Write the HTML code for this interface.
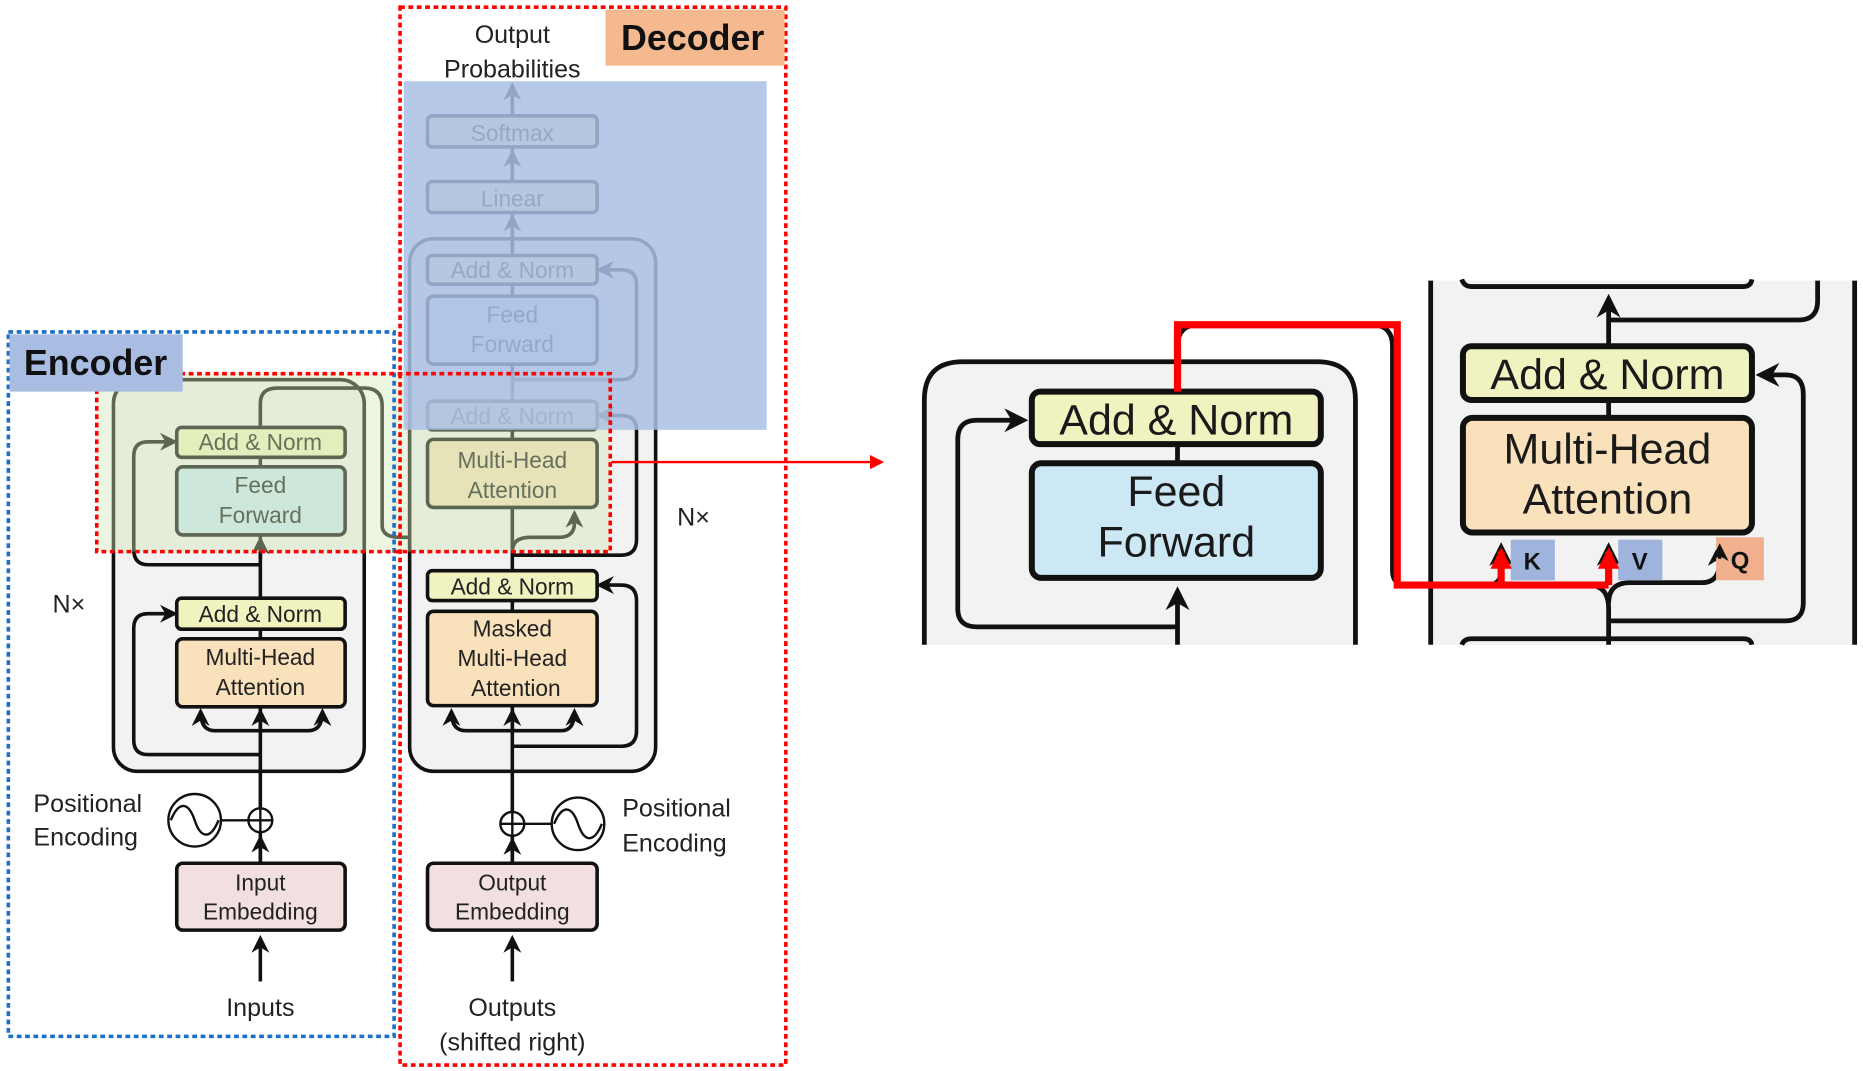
<!DOCTYPE html>
<html><head><meta charset="utf-8"><style>
html,body{margin:0;padding:0;background:#fff;width:1863px;height:1071px;overflow:hidden}
svg{display:block}
text{font-family:"Liberation Sans",sans-serif}
</style></head><body>
<svg width="1863" height="1071" viewBox="0 0 1560 897" preserveAspectRatio="none" xmlns="http://www.w3.org/2000/svg">
<defs>
<marker id="ah" viewBox="0 0 10 10" refX="8" refY="5" markerWidth="5" markerHeight="5" orient="auto-start-reverse"><path d="M0,0 L10,5 L0,10 L3,5z" fill="#111"/></marker>
<marker id="ahr" viewBox="0 0 10 10" refX="8" refY="5" markerWidth="3" markerHeight="3" orient="auto"><path d="M0,0 L10,5 L0,10z" fill="#f00"/></marker>
<marker id="ahr2" viewBox="0 0 10 10" refX="8" refY="5" markerWidth="6" markerHeight="6" orient="auto"><path d="M0,0 L10,5 L0,10z" fill="#f00"/></marker>
</defs>
<g fill="none" stroke="#111" stroke-width="3">
<!-- ENCODER -->
<rect x="95" y="318" width="210" height="328" rx="20" fill="#f2f2f2"/>
<line x1="218" y1="778" x2="218" y2="358"/>
<path d="M218,358 V338 Q218,325 232,325 H305 Q320,325 320,340 V440 Q320,450 335,450 H368 Q378,450 378,440 V430" marker-end="url(#ah)"/>
<path d="M429,450 V430" marker-end="url(#ah)"/>
<path d="M218,473 H124 Q112,473 112,460 V382 Q112,370 124,370 H146" marker-end="url(#ah)"/>
<path d="M218,632 H124 Q112,632 112,620 V526 Q112,514 124,514 H146" marker-end="url(#ah)"/>
<path d="M168,596 Q168,612 180,612 H258 Q270,612 270,596" marker-start="url(#ah)" marker-end="url(#ah)"/>
<path d="M218,612 V596" marker-end="url(#ah)"/>
<path d="M218,468 V452" marker-end="url(#ah)"/>
<rect x="148" y="358" width="141" height="25" rx="4" fill="#f0f3c0"/>
<rect x="148" y="391" width="141" height="57" rx="5" fill="#cde8f3"/>
<rect x="148" y="501" width="141" height="26" rx="4" fill="#f0f3c0"/>
<rect x="148" y="535" width="141" height="57" rx="5" fill="#f8e1bb"/>
<rect x="148" y="723" width="141" height="56" rx="5" fill="#f2dfe0"/>
<path d="M218,822 V786" marker-end="url(#ah)"/>
<path d="M218,720 V702" marker-end="url(#ah)"/>
<circle cx="163" cy="687" r="22" stroke-width="2" fill="#fff"/>
<path d="M143,687 C150,670 158,672 163,687 S176,704 183,687" stroke-width="2"/>
<line x1="185" y1="687" x2="208" y2="687" stroke-width="2"/>
<circle cx="218" cy="687" r="10" stroke-width="2" fill="#fff"/>
<path d="M208,687 H228 M218,677 V697" stroke-width="2"/>
<!-- DECODER -->
<rect x="343" y="200" width="206" height="446" rx="20" fill="#f2f2f2"/>
<line x1="429" y1="778" x2="429" y2="70"/>
<path d="M429,462 Q429,450 444,450 H468 Q481,450 481,438 V430" marker-end="url(#ah)"/>
<path d="M429,625 H520 Q533,625 533,612 V503 Q533,490 520,490 H502" marker-end="url(#ah)"/>
<path d="M429,465 H520 Q533,465 533,452 V360 Q533,348 520,348 H502" marker-end="url(#ah)"/>
<path d="M429,318 H520 Q533,318 533,305 V238 Q533,226 520,226 H502" marker-end="url(#ah)"/>
<path d="M378,596 Q378,612 390,612 H470 Q481,612 481,596" marker-start="url(#ah)" marker-end="url(#ah)"/>
<path d="M429,612 V596" marker-end="url(#ah)"/>
<path d="M429,148 V128" marker-end="url(#ah)"/>
<path d="M429,90 V72" marker-end="url(#ah)"/>
<path d="M429,205 V182" marker-end="url(#ah)"/>
<rect x="358" y="97" width="142" height="26" rx="4" fill="#f0f3c0"/>
<rect x="358" y="152" width="142" height="26" rx="4" fill="#f0f3c0"/>
<rect x="358" y="214" width="142" height="24" rx="4" fill="#f0f3c0"/>
<rect x="358" y="248" width="142" height="57" rx="5" fill="#cde8f3"/>
<rect x="358" y="336" width="142" height="24" rx="4" fill="#f0f3c0"/>
<rect x="358" y="368" width="142" height="57" rx="5" fill="#f8e1bb"/>
<rect x="358" y="478" width="142" height="25" rx="4" fill="#f0f3c0"/>
<rect x="358" y="512" width="142" height="79" rx="5" fill="#f8e1bb"/>
<rect x="358" y="723" width="142" height="56" rx="5" fill="#f2dfe0"/>
<path d="M429,822 V786" marker-end="url(#ah)"/>
<path d="M429,720 V704" marker-end="url(#ah)"/>
<circle cx="484" cy="690" r="22" stroke-width="2" fill="#fff"/>
<path d="M464,690 C471,673 479,675 484,690 S497,707 504,690" stroke-width="2"/>
<line x1="439" y1="690" x2="462" y2="690" stroke-width="2"/>
<circle cx="429" cy="690" r="10" stroke-width="2" fill="#fff"/>
<path d="M419,690 H439 M429,680 V700" stroke-width="2"/>
</g>
<g font-size="19" fill="#222" text-anchor="middle">
<text x="218" y="377">Add &amp; Norm</text>
<text x="218" y="413">Feed</text><text x="218" y="438">Forward</text>
<text x="218" y="521">Add &amp; Norm</text>
<text x="218" y="557">Multi-Head</text><text x="218" y="582">Attention</text>
<text x="218" y="746">Input</text><text x="218" y="770">Embedding</text>
<text x="218" y="851" font-size="21">Inputs</text>
<text x="429" y="118">Softmax</text>
<text x="429" y="173">Linear</text>
<text x="429" y="233">Add &amp; Norm</text>
<text x="429" y="270">Feed</text><text x="429" y="295">Forward</text>
<text x="429" y="355">Add &amp; Norm</text>
<text x="429" y="392">Multi-Head</text><text x="429" y="417">Attention</text>
<text x="429" y="498">Add &amp; Norm</text>
<text x="429" y="533">Masked</text><text x="429" y="558">Multi-Head</text><text x="432" y="583">Attention</text>
<text x="429" y="746">Output</text><text x="429" y="770">Embedding</text>
<text x="429" y="851" font-size="21">Outputs</text><text x="429" y="880" font-size="21">(shifted right)</text>
<text x="429" y="36" font-size="21">Output</text><text x="429" y="65" font-size="21">Probabilities</text>
</g>
<g font-size="21" fill="#222">
<text x="44" y="513">N×</text>
<text x="567" y="440">N×</text>
<text x="28" y="680">Positional</text><text x="28" y="708">Encoding</text>
<text x="521" y="684">Positional</text><text x="521" y="713">Encoding</text>
</g>
<!-- overlays -->
<rect x="81" y="313" width="430" height="149" fill="rgba(205,230,180,0.4)"/>
<rect x="338" y="68" width="304" height="292" fill="rgba(170,192,228,0.85)"/>
<rect x="7" y="278" width="323" height="590" fill="none" stroke="#1a6fc9" stroke-width="3" stroke-dasharray="4,3"/>
<rect x="335" y="6" width="323" height="886" fill="none" stroke="#f00" stroke-width="3" stroke-dasharray="4,3"/>
<rect x="81" y="313" width="430" height="149" fill="none" stroke="#f00" stroke-width="3" stroke-dasharray="4,3"/>
<rect x="8" y="280" width="145" height="48" fill="#a9bde3"/>
<text x="20" y="314" font-size="30" font-weight="bold" fill="#111">Encoder</text>
<rect x="507" y="8" width="150" height="47" fill="#f4b98f"/>
<text x="520" y="42" font-size="30" font-weight="bold" fill="#111">Decoder</text>
<line x1="512" y1="387" x2="738" y2="387" stroke="#f00" stroke-width="2" marker-end="url(#ahr2)"/>
<!-- RIGHT PANEL -->
<g fill="none" stroke="#111" stroke-width="4">
<path d="M774,540 V335 Q774,303 806,303 H1103 Q1135,303 1135,335 V540" fill="#f2f2f2"/>
<rect x="1197" y="235" width="356" height="305" fill="#f2f2f2" stroke="none"/>
<line x1="1198" y1="235" x2="1198" y2="540"/>
<line x1="1553" y1="235" x2="1553" y2="540"/>
<path d="M1224,234 Q1226,240 1232,240 H1460 Q1466,240 1467,234"/>
<path d="M1522,235 V252 Q1522,268 1506,268 H1347"/>
<path d="M1347,290 V250" marker-end="url(#ah)"/>
<path d="M986,328 V290 Q986,272 1004,272 H1148 Q1166,272 1166,290 V478 Q1166,490 1178,490 H1245 Q1257,490 1257,478 V458" marker-end="url(#ah)"/>
<path d="M1347,540 V510 Q1347,490 1330,490 H1260" />
<path d="M1347,490 V458" marker-end="url(#ah)"/>
<path d="M1347,505 Q1347,488 1365,488 H1425 Q1440,488 1440,470 V458" marker-end="url(#ah)"/>
<path d="M1347,520 H1495 Q1510,520 1510,505 V330 Q1510,314 1495,314 H1474" marker-end="url(#ah)"/>
<line x1="1347" y1="335" x2="1347" y2="350"/>
<path d="M986,540 V495" marker-end="url(#ah)"/>
<path d="M986,525 H818 Q802,525 802,510 V368 Q802,352 818,352 H857" marker-end="url(#ah)"/>
<line x1="986" y1="372" x2="986" y2="388"/>
<rect x="864" y="328" width="242" height="44" rx="7" fill="#f0f3c0" stroke-width="5"/>
<rect x="864" y="388" width="242" height="96" rx="8" fill="#cde8f5" stroke-width="5"/>
<rect x="1225" y="290" width="242" height="45" rx="7" fill="#f0f3c0" stroke-width="5"/>
<rect x="1225" y="350" width="242" height="96" rx="8" fill="#f8e1bb" stroke-width="5"/>
<path d="M1224,540 Q1226,535 1232,535 H1460 Q1466,535 1467,540"/>
</g>
<g font-size="36" fill="#1a1a1a" text-anchor="middle">
<text x="985" y="364">Add &amp; Norm</text>
<text x="985" y="424">Feed</text><text x="985" y="466">Forward</text>
<text x="1346" y="326">Add &amp; Norm</text>
<text x="1346" y="388">Multi-Head</text><text x="1346" y="430">Attention</text>
</g>
<rect x="1265" y="452" width="37" height="34" fill="#9fb4dd"/>
<rect x="1355" y="452" width="37" height="34" fill="#9fb4dd"/>
<rect x="1437" y="450" width="40" height="36" fill="#f0b08e"/>
<g font-size="20" font-weight="bold" fill="#111" text-anchor="middle">
<text x="1283" y="477">K</text><text x="1373" y="477">V</text><text x="1457" y="476">Q</text>
</g>
<path d="M1440,468 V458" stroke="#111" stroke-width="3" marker-end="url(#ah)"/>
<g fill="none" stroke="#f00" stroke-width="6">
<path d="M986,328 V272 H1170 V490 H1347"/>
<path d="M1257,490 V462" marker-end="url(#ahr)"/>
<path d="M1347,490 V462" marker-end="url(#ahr)"/>
</g>
</svg>
</body></html>
